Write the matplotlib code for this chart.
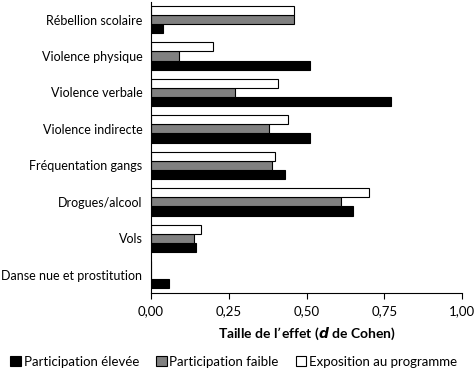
import numpy as np
import matplotlib
matplotlib.use("Agg")
from matplotlib import pyplot as plt

matplotlib.rcParams['font.family'] = ['Lato', 'DejaVu Sans']

# données (d de Cohen)
categories = ['Rébellion scolaire', 'Violence physique', 'Violence verbale',
              'Violence indirecte', 'Fréquentation gangs', 'Drogues/alcool',
              'Vols', 'Danse nue et prostitution']
elevee = [0.04, 0.51, 0.77, 0.51, 0.43, 0.65, 0.145, 0.06]
faible = [0.46, 0.09, 0.27, 0.38, 0.39, 0.61, 0.14, 0.0]
exposition = [0.46, 0.20, 0.41, 0.44, 0.40, 0.70, 0.16, 0.0]
xticks = [0, 0.25, 0.5, 0.75, 1.0]
xtick_labels = ['0,00', '0,25', '0,50', '0,75', '1,00']

fig = plt.figure(figsize=(4.77, 3.71), dpi=100)
ax = fig.add_axes([150.7 / 477, 1 - 293 / 371, (462.3 - 150.7) / 477, 291 / 371])

y = np.arange(len(categories))
h = 0.25
ax.barh(y + h, elevee, height=h, color='black', edgecolor='black', linewidth=0.8,
        label='Participation élevée')
ax.barh(y, faible, height=h, color='#808080', edgecolor='black', linewidth=0.8,
        label='Participation faible')
ax.barh(y - h, exposition, height=h, color='white', edgecolor='black', linewidth=0.8,
        label='Exposition au programme')

ax.set_ylim(len(categories) - 0.5, -0.48)
ax.set_xlim(0, 1.0)
ax.set_yticks(y)
ax.set_yticklabels(categories, fontsize=9)
ax.tick_params(axis='y', length=0, pad=6)
ax.set_xticks(xticks)
ax.set_xticklabels(xtick_labels, fontsize=9.5)
ax.tick_params(axis='x', length=4, width=0.8, pad=5)
ax.spines['top'].set_visible(False)
ax.spines['right'].set_visible(False)
ax.set_xlabel(r'Taille de l’effet ($\boldsymbol{d}$ de Cohen)', fontsize=10,
              fontweight='bold', labelpad=6)
ax.xaxis.label.set_math_fontfamily('dejavusans')

leg = fig.legend(loc='center', bbox_to_anchor=(0.49, 1 - 362 / 371), ncol=3,
                 frameon=False, fontsize=9.5, handlelength=0.8, handleheight=0.8,
                 handletextpad=0.2, columnspacing=1.3)

plt.savefig('out.png', dpi=100)
